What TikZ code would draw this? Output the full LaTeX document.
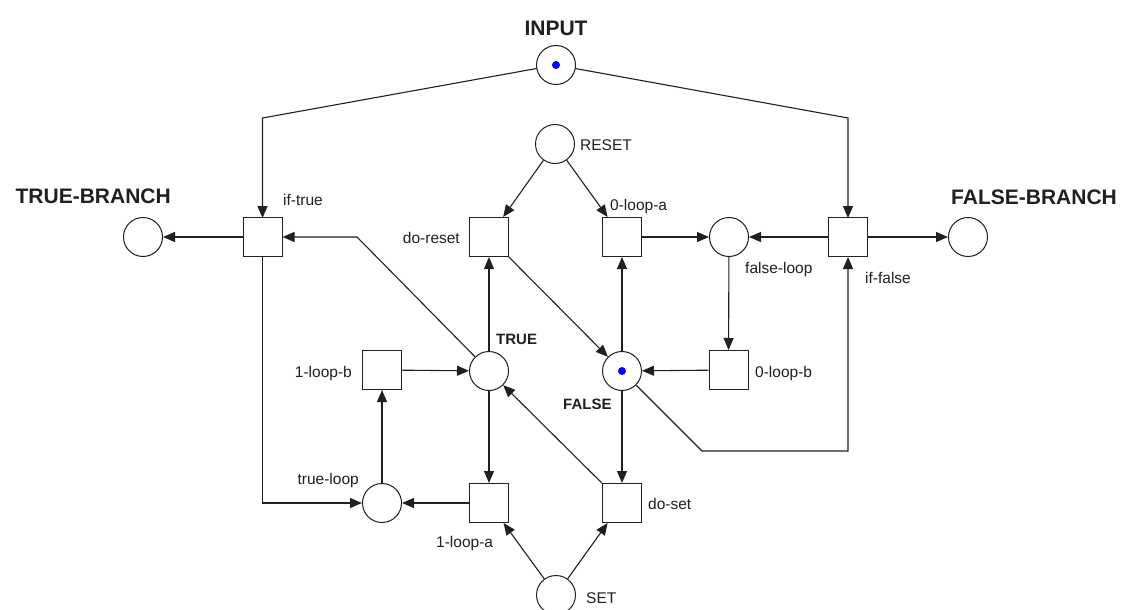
\documentclass[tikz,border=0pt]{standalone}
\usepackage{fontspec}
\setmainfont{Liberation Sans}
\usetikzlibrary{arrows.meta}
\definecolor{linec}{HTML}{202020}
\definecolor{tokenblue}{HTML}{0000FF}
\begin{document}
\begin{tikzpicture}[x=1pt,y=-1pt,
  place/.style={circle,draw=linec,line width=1pt,minimum size=39pt,inner sep=0pt,fill=white},
  trans/.style={rectangle,draw=linec,line width=1pt,minimum size=39pt,inner sep=0pt,fill=white},
  arc/.style={draw=linec,line width=1.1pt,-{Triangle[length=12pt,width=10pt]}},
  plain/.style={draw=linec,line width=1.1pt},
  lbl/.style={font=\fontsize{15.5}{18}\selectfont,inner sep=0pt,text=linec},
  blbl/.style={font=\bfseries\fontsize{15}{18}\selectfont,inner sep=0pt,text=linec},
  biglbl/.style={font=\bfseries\fontsize{21}{24}\selectfont,inner sep=0pt,text=linec},
  token/.style={circle,fill=tokenblue,inner sep=0pt,minimum size=8pt}
]
\useasboundingbox (0,0) rectangle (1128,610);
\clip (0,0) rectangle (1128,610);
\fill[white] (0,0) rectangle (1128,610);

% corner coordinates
\coordinate (cTL) at (262.5,118);
\coordinate (cTR) at (848,118);
\coordinate (cBL) at (262.5,503);
\coordinate (cT) at (357,237);
\coordinate (cF1) at (702,451);
\coordinate (cF2) at (848,451);

% arcs (drawn first, nodes on top)
\path[arc] (556,65) -- (cTL) -- (262.5,218);
\path[arc] (556,65) -- (cTR) -- (848,218);

% places
\node[place] (input) at (556,65) {};
\node[place] (reset) at (555,144) {};
\node[place] (tbranch) at (143,237) {};
\node[place] (fbranch) at (968,237) {};
\node[place] (floop) at (729,237) {};
\node[place] (true) at (489,371) {};
\node[place] (false) at (622,371) {};
\node[place] (tloop) at (382,503) {};
\node[place] (set) at (556,595) {};

% transitions
\node[trans] (iftrue) at (262.5,237) {};
\node[trans] (doreset) at (489,237) {};
\node[trans] (zloopa) at (622,237) {};
\node[trans] (iffalse) at (848,237) {};
\node[trans] (oloopb) at (382,370) {};
\node[trans] (zloopb) at (728.5,370) {};
\node[trans] (oloopa) at (489,503) {};
\node[trans] (doset) at (622,503) {};

% tokens
\node[token] (tokin) at (input) {};
\node[token] (tokf) at (false) {};

% arcs
\path[arc] (reset) -- (doreset);
\path[arc] (reset) -- (zloopa);
\path[arc] (iftrue) -- (tbranch);
\path[arc] (iftrue) -- (cBL) -- (tloop);
\path[arc] (true) -- (cT) -- (iftrue);
\path[arc] (true) -- (doreset);
\path[arc] (doreset) -- (false);
\path[arc] (false) -- (zloopa);
\path[arc] (zloopa) -- (floop);
\path[arc] (iffalse) -- (floop);
\path[arc] (iffalse) -- (fbranch);
\path[arc] (floop) -- (zloopb);
\path[arc] (zloopb) -- (false);
\path[arc] (false) -- (cF1) -- (cF2) -- (iffalse);
\path[arc] (oloopb) -- (true);
\path[arc] (tloop) -- (oloopb);
\path[arc] (true) -- (oloopa);
\path[arc] (oloopa) -- (tloop);
\path[arc] (doset) -- (true);
\path[arc] (false) -- (doset);
\path[arc] (set) -- (oloopa);
\path[arc] (set) -- (doset);

% labels
\node[biglbl,anchor=base] (linput) at (556,36) {INPUT};
\node[biglbl,anchor=base east] (ltb) at (171,203) {TRUE-BRANCH};
\node[biglbl,anchor=base west] (lfb) at (951,204) {FALSE-BRANCH};
\node[lbl,anchor=base west] (lreset) at (580,150) {RESET};
\node[lbl,anchor=base west] (liftrue) at (283,205) {if-true};
\node[lbl,anchor=base east] (ldoreset) at (460,243) {do-reset};
\node[lbl,anchor=base west] (lzloopa) at (610,210) {0-loop-a};
\node[lbl,anchor=base west] (lfloop) at (745,273) {false-loop};
\node[lbl,anchor=base west] (liffalse) at (865,283) {if-false};
\node[blbl,anchor=base west] (ltrue) at (496,344) {TRUE};
\node[blbl,anchor=base west] (lfalse) at (563,409) {FALSE};
\node[lbl,anchor=base east] (loloopb) at (352,377) {1-loop-b};
\node[lbl,anchor=base west] (lzloopb) at (755,377) {0-loop-b};
\node[lbl,anchor=base east] (ltloop) at (359,484) {true-loop};
\node[lbl,anchor=base west] (loloopa) at (436,547) {1-loop-a};
\node[lbl,anchor=base west] (ldoset) at (648,509) {do-set};
\node[lbl,anchor=base west] (lset) at (586,603) {SET};
\end{tikzpicture}
\end{document}
